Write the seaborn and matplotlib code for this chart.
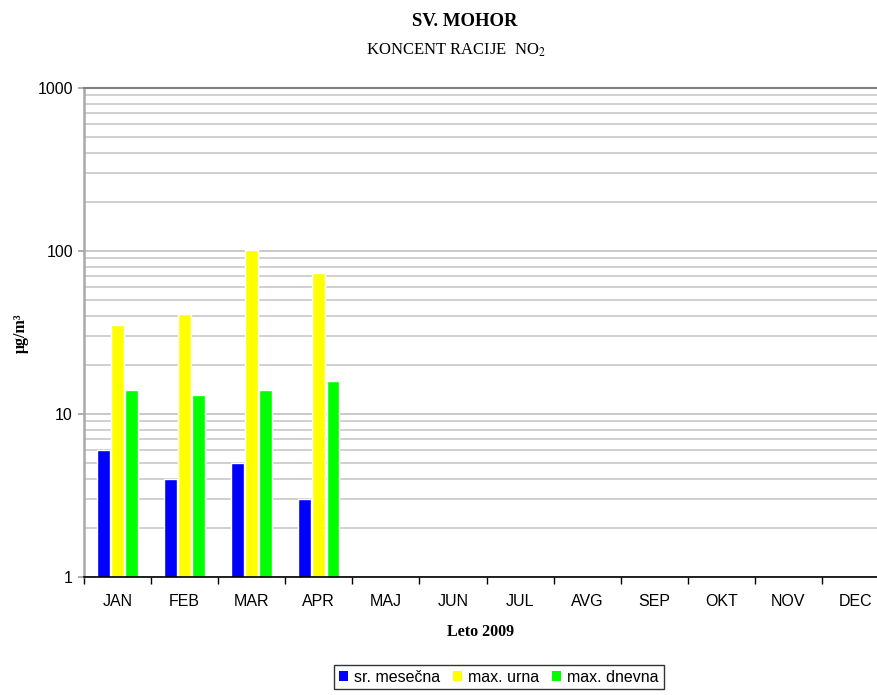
import matplotlib
matplotlib.use("Agg")
import matplotlib.pyplot as plt
import seaborn as sns
import pandas as pd
import numpy as np
from matplotlib.ticker import FixedLocator, NullFormatter, FixedFormatter
from matplotlib.patches import Patch

months = ["JAN", "FEB", "MAR", "APR", "MAJ", "JUN", "JUL", "AVG", "SEP", "OKT", "NOV", "DEC"]
series_names = ["sr. mesečna", "max. urna", "max. dnevna"]
sr_mesecna = [6, 4, 5, 3]
max_urna = [35, 41, 101, 73]
max_dnevna = [14, 13, 14, 16]
colors = ["#0000FF", "#FFFF00", "#00FF00"]
yticks = [1, 10, 100, 1000]

rows = []
for name, vals in zip(series_names, [sr_mesecna, max_urna, max_dnevna]):
    for m, v in zip(months, vals):
        rows.append({"month": m, "series": name, "value": v})
df = pd.DataFrame(rows)

sns.set_style("white")
plt.rcParams["font.family"] = ["Liberation Sans", "DejaVu Sans"]
plt.rcParams["text.color"] = "black"
plt.rcParams["xtick.color"] = "black"
plt.rcParams["ytick.color"] = "black"

fig = plt.figure(figsize=(8.77, 6.95), dpi=100)
ax = fig.add_axes([84 / 877, 1 - 577 / 695, 805 / 877, (577 - 88) / 695])

sns.barplot(data=df, x="month", y="value", hue="series", order=months,
            hue_order=series_names, palette=colors, width=0.63, gap=0.1,
            saturation=1, ax=ax, legend=False, zorder=3)

ax.set_yscale("log")
ax.set_ylim(1, 1000)
ax.set_xlim(-0.5, 11.5)

# gridlines
minor = [d * k for d in [1, 10, 100] for k in range(2, 10)]
ax.yaxis.set_major_locator(FixedLocator(yticks))
ax.yaxis.set_major_formatter(FixedFormatter([str(t) for t in yticks]))
ax.yaxis.set_minor_locator(FixedLocator(minor))
ax.yaxis.set_minor_formatter(NullFormatter())
ax.grid(True, axis="y", which="major", color="#c0c0c0", linewidth=1.2, zorder=0)
ax.grid(True, axis="y", which="minor", color="#c8c8c8", linewidth=1.2, zorder=0)
ax.set_axisbelow(True)
ax.tick_params(axis="y", which="minor", length=0)
ax.tick_params(axis="y", which="major", length=4, color="#a0a0a0", width=1.2,
               labelsize=11.5, labelcolor="black", pad=4, left=True)

# x ticks at category boundaries
ax.set_xticks(range(12))
ax.set_xticklabels(months)
ax.tick_params(axis="x", which="major", length=0, labelsize=11.5, labelcolor="black", pad=12)
ax.xaxis.set_minor_locator(FixedLocator(np.arange(-0.5, 12, 1)))
ax.tick_params(axis="x", which="minor", length=5, color="black", width=1, bottom=True)

ax.spines["right"].set_visible(False)
ax.spines["top"].set_color("#808080")
ax.spines["top"].set_linewidth(1.5)
ax.spines["left"].set_color("#a8a8a8")
ax.spines["left"].set_linewidth(1.8)
ax.spines["bottom"].set_color("black")
ax.spines["bottom"].set_linewidth(1.2)
ax.spines["bottom"].set_zorder(5)

ax.set_xlabel("")
ax.set_ylabel("")

serif = ["Liberation Serif", "DejaVu Serif"]
plt.rcParams["mathtext.fontset"] = "stix"
fig.text(465 / 877, 1 - 21 / 695, "SV. MOHOR", ha="center", va="center",
         family=serif, weight="bold", fontsize=13.5, color="black")
fig.text(456 / 877, 1 - 50 / 695, "KONCENT RACIJE  NO$_2$", ha="center", va="center",
         family=serif, fontsize=12, color="black")
fig.text(481 / 877, 1 - 632 / 695, "Leto 2009", ha="center", va="center",
         family=serif, weight="bold", fontsize=11.5, color="black")
fig.text(21 / 877, 1 - 333 / 695, "μg/m³", ha="center", va="center", rotation=90,
         family=serif, weight="bold", fontsize=11.5, color="black")

handles = [Patch(facecolor=c, edgecolor="none") for c in colors]
leg = fig.legend(handles, series_names, loc="center", bbox_to_anchor=(499 / 877, 1 - 677 / 695),
                 ncol=3, frameon=True, fancybox=False, fontsize=11.5,
                 handlelength=0.55, handleheight=0.55, handletextpad=0.4,
                 columnspacing=0.8, borderpad=0.3, borderaxespad=0)
leg.get_frame().set_edgecolor("black")
leg.get_frame().set_linewidth(1.0)

fig.savefig("out.png", dpi=100)
